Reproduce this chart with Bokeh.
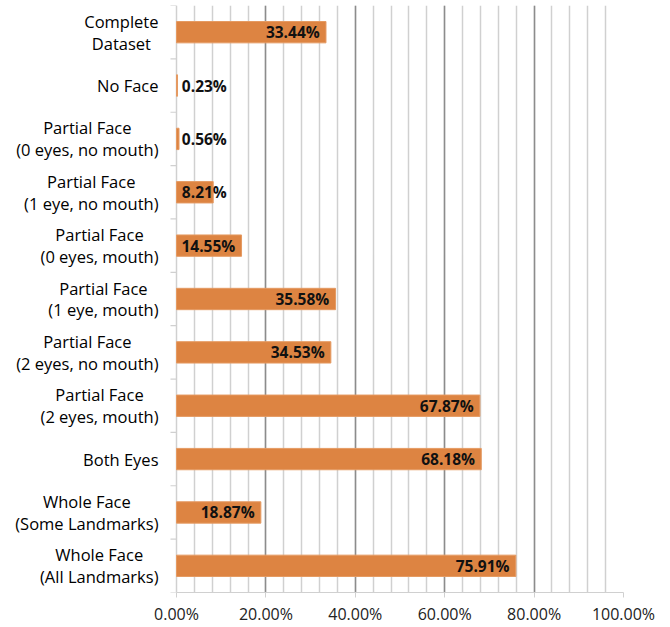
from bokeh.plotting import figure
from bokeh.models import Range1d, FixedTicker, PrintfTickFormatter, ColumnDataSource
from bokeh.core.properties import value
from bokeh.embed import file_html
from bokeh.resources import INLINE

categories = [
    "Complete\nDataset",
    "No Face",
    "Partial Face\n(0 eyes, no mouth)",
    "Partial Face\n(1 eye, no mouth)",
    "Partial Face\n(0 eyes, mouth)",
    "Partial Face\n(1 eye, mouth)",
    "Partial Face\n(2 eyes, no mouth)",
    "Partial Face\n(2 eyes, mouth)",
    "Both Eyes",
    "Whole Face\n(Some Landmarks)",
    "Whole Face\n(All Landmarks)",
]
values = [33.44, 0.23, 0.56, 8.21, 14.55, 35.58, 34.53, 67.87, 68.18, 18.87, 75.91]
x_ticks = [0, 20, 40, 60, 80, 100]

FONT = "Open Sans"
W, H = 670, 627
LEFT, RIGHT, TOP, BOTTOM = 176, 47, 5, 34   # pixel margins round the bar area
PX = (W - LEFT - RIGHT) / 100.0             # pixels per percent

n = len(categories)
ypos = [i + 0.5 for i in range(n)]
bounds_y = list(range(n + 1))
labels = [f"{v:.2f}%" for v in values]
inside = [v > 12 for v in values]
lx = [v - 1.4 if ins else 1.2 for v, ins in zip(values, inside)]


def pick(seq, flag):
    return [a for a, b in zip(seq, inside) if b == flag]


src_in = ColumnDataSource(dict(x=pick(lx, True), y=pick(ypos, True), t=pick(labels, True)))
src_out = ColumnDataSource(dict(x=pick(lx, False), y=pick(ypos, False), t=pick(labels, False)))
src_cat = ColumnDataSource(dict(x=[0] * n, y=ypos, t=categories))

p = figure(width=W, height=H, output_backend="svg", toolbar_location=None,
           x_range=Range1d(-LEFT / PX, 100), y_range=Range1d(n, 0),
           y_axis_location=None,
           min_border_left=0, min_border_right=RIGHT, min_border_top=TOP,
           min_border_bottom=BOTTOM)
p.outline_line_color = None

# grid: light minor lines every 4 %, darker major lines every 20 %
p.xgrid.ticker = FixedTicker(ticks=x_ticks[1:], minor_ticks=list(range(0, 101, 4)))
p.xgrid.grid_line_color = "#8C8C8C"
p.xgrid.grid_line_width = 1.5
p.xgrid.minor_grid_line_color = "#D0D0D0"
p.xgrid.minor_grid_line_width = 1.5
p.ygrid.grid_line_color = None

# short category-boundary tick marks left of the value axis
p.segment(x0=-6 / PX, x1=0, y0=bounds_y, y1=bounds_y, line_color="#D0D0D0",
          line_width=1.2)

p.hbar(y=ypos, right=values, left=0, height=0.4, fill_color="#DD8442",
       line_color="#E59A62", line_width=1)
for src, align in ((src_in, "right"), (src_out, "left")):
    p.text(x="x", y="y", text="t", source=src, text_align=align,
           text_baseline="middle", text_font_size="15.5px", text_font_style="bold",
           text_font=value(FONT), text_color="#111111")

# category labels: block right-aligned, lines centred
p.text(x="x", y="y", text="t", source=src_cat, x_offset=-18,
       text_align="center", anchor="center_right", text_baseline="middle",
       text_font=value(FONT), text_font_size="16.5px", text_color="#000000",
       text_line_height=0.95)

# x axis
xa = p.xaxis[0]
xa.ticker = FixedTicker(ticks=x_ticks)
xa.bounds = (0, 100)
xa.formatter = PrintfTickFormatter(format="%.2f%%")
xa.axis_line_color = "#D0D0D0"
xa.axis_line_width = 1.2
xa.major_tick_line_color = "#D0D0D0"
xa.major_tick_in = 0
xa.major_tick_out = 5
xa.minor_tick_line_color = None
xa.major_label_text_font = FONT
xa.major_label_text_font_size = "16px"
xa.major_label_text_color = "#222222"
xa.major_label_standoff = 5

open("out.html", "w").write(file_html(p, INLINE))
